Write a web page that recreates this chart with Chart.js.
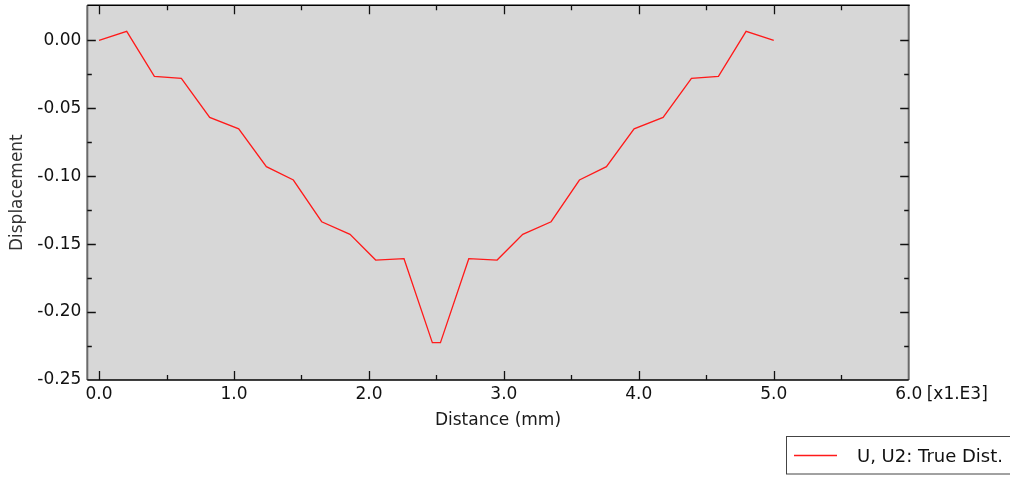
<!DOCTYPE html>
<html>
<head>
<meta charset="utf-8">
<script src="https://cdn.jsdelivr.net/npm/chart.js@4/dist/chart.umd.min.js"></script>
<style>
  html, body { margin: 0; padding: 0; background: #ffffff; }
  #wrap { width: 1010px; height: 500px; position: relative; }
</style>
</head>
<body>
<div id="wrap"><canvas id="chart" width="1010" height="500"></canvas></div>
<script>
// Path distance along the section (mm) and vertical displacement U2
const distanceMm = [0, 205, 410, 610, 820, 1035, 1240, 1440, 1650, 1860, 2050, 2260, 2470,
                    2530, 2740, 2950, 3140, 3350, 3560, 3760, 3965, 4180, 4390, 4590, 4795, 5000];
const displacementU2 = [0.0000, 0.0066, -0.0265, -0.0280, -0.0567, -0.0651, -0.0930, -0.1028, -0.1335,
                        -0.1428, -0.1617, -0.1607, -0.2225, -0.2225, -0.1607, -0.1617, -0.1428, -0.1335,
                        -0.1028, -0.0930, -0.0651, -0.0567, -0.0280, -0.0265, 0.0066, 0.0000];
const seriesLabel = 'U, U2: True Dist.';

// Axis ticks (x in mm, labelled in thousands)
const xMajorTicks = [0, 1000, 2000, 3000, 4000, 5000, 6000];
const xMinorTicks = [500, 1500, 2500, 3500, 4500, 5500];
const yMajorTicks = [-0.25, -0.20, -0.15, -0.10, -0.05, 0.00];
const yMinorTicks = [-0.225, -0.175, -0.125, -0.075, -0.025];
const xExponentLabel = '[x1.E3]';

const FONT = "'DejaVu Sans', Verdana, sans-serif";

// Grey plot background
const plotBackground = {
  id: 'plotBackground',
  beforeDraw(chart) {
    const {ctx, chartArea: a} = chart;
    ctx.save();
    ctx.fillStyle = '#d7d7d7';
    ctx.fillRect(a.left, a.top, a.right - a.left, a.bottom - a.top);
    ctx.restore();
  }
};

// Frame, inward tick marks on all four sides, exponent label and legend box
const frameAndTicks = {
  id: 'frameAndTicks',
  afterDraw(chart) {
    const {ctx, chartArea: a} = chart;
    const xs = chart.scales.x, ys = chart.scales.y;
    ctx.save();
    // frame
    ctx.lineCap = 'butt';
    ctx.strokeStyle = '#6a6a6a';
    ctx.lineWidth = 2;
    ctx.beginPath();
    ctx.moveTo(a.left, a.top); ctx.lineTo(a.left, a.bottom);
    ctx.moveTo(a.right, a.top); ctx.lineTo(a.right, a.bottom);
    ctx.stroke();
    ctx.strokeStyle = '#000000';
    ctx.lineWidth = 1.5;
    ctx.beginPath();
    ctx.moveTo(a.left, a.bottom); ctx.lineTo(a.right, a.bottom);
    ctx.moveTo(a.left, a.top); ctx.lineTo(a.right + 1, a.top);
    ctx.stroke();

    // ticks
    ctx.strokeStyle = '#111111';
    ctx.lineWidth = 1.3;
    ctx.beginPath();
    const xt = (vals, len) => vals.forEach(v => {
      const p = Math.round(xs.getPixelForValue(v)) + 0.5;
      ctx.moveTo(p, a.bottom); ctx.lineTo(p, a.bottom - len);
      ctx.moveTo(p, a.top); ctx.lineTo(p, a.top + len);
    });
    const yt = (vals, len) => vals.forEach(v => {
      const p = Math.round(ys.getPixelForValue(v)) + 0.5;
      ctx.moveTo(a.left, p); ctx.lineTo(a.left + len, p);
      ctx.moveTo(a.right, p); ctx.lineTo(a.right - len, p);
    });
    xt(xMajorTicks.filter(v => v < 6000), 9);
    xt(xMinorTicks, 5);
    yt(yMajorTicks.filter(v => v > -0.25), 8.5);
    yt(yMinorTicks, 4.5);
    ctx.stroke();

    // exponent after the last x tick label
    ctx.fillStyle = '#111111';
    ctx.font = '17px ' + FONT;
    ctx.textAlign = 'left';
    ctx.textBaseline = 'middle';
    ctx.fillText(xExponentLabel, xs.getPixelForValue(6000) + 18, a.bottom + 4 + 10.2);

    // legend
    const ds = chart.data.datasets[0];
    ctx.fillStyle = '#ffffff';
    ctx.fillRect(787, 437, 240, 37);
    ctx.strokeStyle = '#444444';
    ctx.lineWidth = 1;
    ctx.strokeRect(786.5, 436.5, 240, 37.5);
    ctx.strokeStyle = ds.borderColor;
    ctx.lineWidth = 1.3;
    ctx.beginPath();
    ctx.moveTo(794, 455.5); ctx.lineTo(837, 455.5);
    ctx.stroke();
    ctx.fillStyle = '#111111';
    ctx.font = '18px ' + FONT;
    ctx.textBaseline = 'middle';
    ctx.fillText(ds.label, 857, 457);
    ctx.restore();
  }
};

new Chart(document.getElementById('chart'), {
  type: 'line',
  data: {
    labels: distanceMm,
    datasets: [{
      label: seriesLabel,
      data: distanceMm.map((d, i) => ({x: d, y: displacementU2[i]})),
      borderColor: '#ff1a1a',
      borderWidth: 1.3,
      pointRadius: 0,
      tension: 0,
      fill: false
    }]
  },
  options: {
    responsive: false,
    animation: false,
    layout: { padding: { left: 0, top: 5.3, right: 101.3, bottom: 69 } },
    plugins: { legend: { display: false }, tooltip: { enabled: false } },
    scales: {
      x: {
        type: 'linear',
        min: -87,
        max: 6000,
        grid: { display: false, drawTicks: false },
        border: { display: false },
        afterBuildTicks: s => { s.ticks = xMajorTicks.map(v => ({value: v})); },
        afterFit: s => { s.height = 51; s.paddingLeft = 0; s.paddingRight = 0; },
        ticks: {
          autoSkip: false,
          maxRotation: 0,
          padding: 4,
          color: '#111111',
          font: { family: FONT, size: 17 },
          callback: v => (v / 1000).toFixed(1)
        },
        title: {
          display: true,
          text: 'Distance (mm)',
          color: '#1a1a1a',
          font: { family: FONT, size: 17 },
          padding: { top: 0, bottom: 0 }
        }
      },
      y: {
        type: 'linear',
        min: -0.25,
        max: 0.0258,
        grid: { display: false, drawTicks: false },
        border: { display: false },
        afterBuildTicks: s => { s.ticks = yMajorTicks.map(v => ({value: v})); },
        afterFit: s => { s.width = 87.3; s.paddingTop = 0; s.paddingBottom = 0; },
        ticks: {
          autoSkip: false,
          padding: 6,
          color: '#111111',
          font: { family: FONT, size: 17 },
          callback: v => v.toFixed(2)
        },
        title: {
          display: true,
          text: 'Displacement',
          color: '#333333',
          font: { family: FONT, size: 17 },
          padding: { top: 7, bottom: 0 }
        }
      }
    }
  },
  plugins: [plotBackground, frameAndTicks]
});
</script>
</body>
</html>
